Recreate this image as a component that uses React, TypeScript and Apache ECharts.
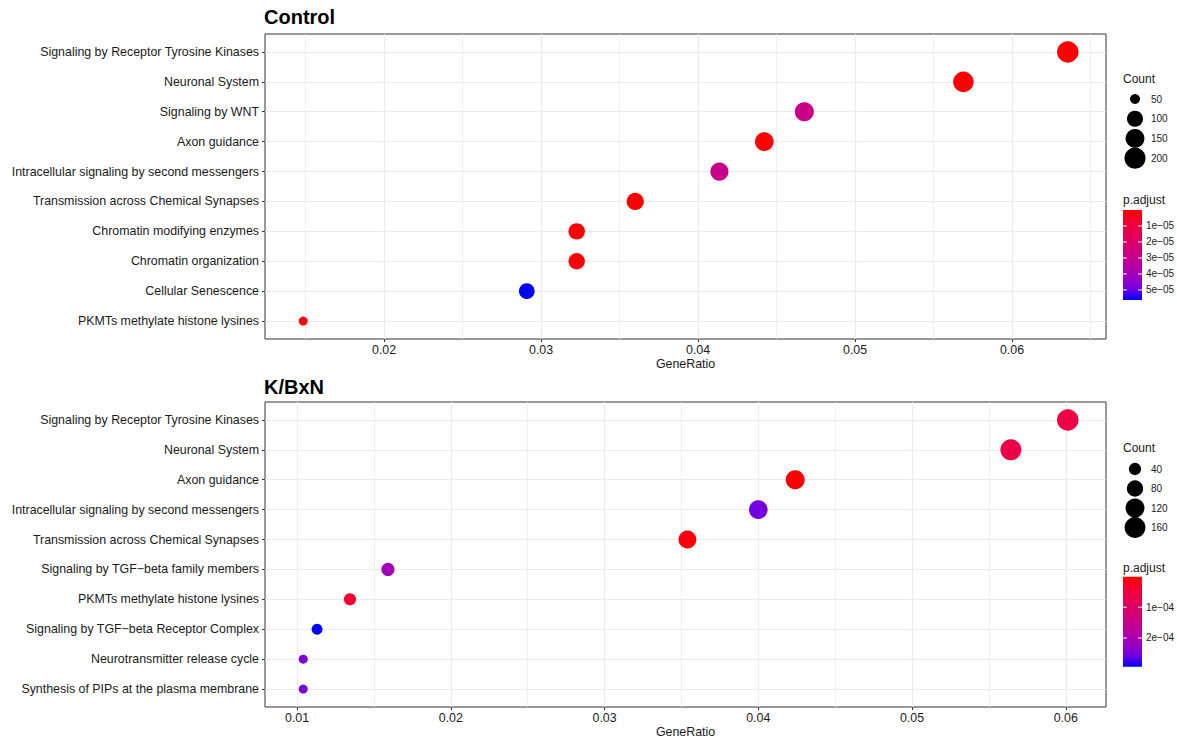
import React, { useEffect, useRef } from "react";
import * as echarts from "echarts";

// ---------- Data: Control panel ----------
const controlCategories = [
  "Signaling by Receptor Tyrosine Kinases",
  "Neuronal System",
  "Signaling by WNT",
  "Axon guidance",
  "Intracellular signaling by second messengers",
  "Transmission across Chemical Synapses",
  "Chromatin modifying enzymes",
  "Chromatin organization",
  "Cellular Senescence",
  "PKMTs methylate histone lysines",
];
const controlGeneRatio = [0.06355, 0.0569, 0.04677, 0.04422, 0.04136, 0.036, 0.03227, 0.03227, 0.02909, 0.01485];
const controlCount = [210, 188, 154, 146, 136, 119, 106, 106, 96, 49];
const controlPAdjust = [3e-9, 2e-8, 2.8e-5, 1e-7, 2.9e-5, 4e-7, 6e-7, 8e-7, 5.63e-5, 1.2e-6];
const controlXTicks = [0.02, 0.03, 0.04, 0.05, 0.06];
const controlXMinor = [0.015, 0.025, 0.035, 0.045, 0.055, 0.065];
const controlCountBreaks = [50, 100, 150, 200];
const controlPBreaks = [1e-5, 2e-5, 3e-5, 4e-5, 5e-5];
const controlPLabels = ["1e\u221205", "2e\u221205", "3e\u221205", "4e\u221205", "5e\u221205"];

// ---------- Data: K/BxN panel ----------
const kbxnCategories = [
  "Signaling by Receptor Tyrosine Kinases",
  "Neuronal System",
  "Axon guidance",
  "Intracellular signaling by second messengers",
  "Transmission across Chemical Synapses",
  "Signaling by TGF\u2212beta family members",
  "PKMTs methylate histone lysines",
  "Signaling by TGF\u2212beta Receptor Complex",
  "Neurotransmitter release cycle",
  "Synthesis of PIPs at the plasma membrane",
];
const kbxnGeneRatio = [0.06013, 0.05643, 0.0424, 0.04, 0.03539, 0.01591, 0.01344, 0.0113, 0.0104, 0.0104];
const kbxnCount = [174, 164, 123, 116, 103, 46, 39, 33, 30, 30];
const kbxnPAdjust = [5.9e-5, 6.2e-5, 5e-7, 2.55e-4, 1e-5, 2.05e-4, 3.5e-5, 2.935e-4, 2.5e-4, 2.5e-4];
const kbxnXTicks = [0.01, 0.02, 0.03, 0.04, 0.05, 0.06];
const kbxnXMinor = [0.015, 0.025, 0.035, 0.045, 0.055];
const kbxnCountBreaks = [40, 80, 120, 160];
const kbxnPBreaks = [1e-4, 2e-4];
const kbxnPLabels = ["1e\u221204", "2e\u221204"];

const panelTitles = ["Control", "K/BxN"];

// Lab-like red -> blue gradient stops (ggplot interpolation)
const gradientStops = ["#FF0000", "#F40031", "#E80050", "#DA006C", "#CA0088", "#B500A5", "#9A00C2", "#7300E0", "#0000FF"];

const FONT = "Liberation Sans, Arial, Helvetica, sans-serif";
const TEXT = "#1a1a1a";
const GRIDC = "#EBEBEB";
const AXIS_FS = 12.4;
const LEG_TITLE_FS = 12;
const LEG_LABEL_FS = 10;

function expand(arr: number[]): [number, number] {
  const lo = Math.min(...arr);
  const hi = Math.max(...arr);
  const pad = 0.05 * (hi - lo);
  return [lo - pad, hi + pad];
}

function makeSizeFn(counts: number[]) {
  const lo = Math.min(...counts);
  const hi = Math.max(...counts);
  return (c: number) => 9 + 12.5 * Math.sqrt(Math.max(0, c - lo) / (hi - lo));
}

interface Panel {
  cats: string[];
  ratio: number[];
  count: number[];
  p: number[];
  xTicks: number[];
  xMinor: number[];
  countBreaks: number[];
  pBreaks: number[];
  pLabels: string[];
}

const panels: Panel[] = [
  {
    cats: controlCategories,
    ratio: controlGeneRatio,
    count: controlCount,
    p: controlPAdjust,
    xTicks: controlXTicks,
    xMinor: controlXMinor,
    countBreaks: controlCountBreaks,
    pBreaks: controlPBreaks,
    pLabels: controlPLabels,
  },
  {
    cats: kbxnCategories,
    ratio: kbxnGeneRatio,
    count: kbxnCount,
    p: kbxnPAdjust,
    xTicks: kbxnXTicks,
    xMinor: kbxnXMinor,
    countBreaks: kbxnCountBreaks,
    pBreaks: kbxnPBreaks,
    pLabels: kbxnPLabels,
  },
];

// layout
const gridTops = [34, 402];
const gridLeft = 265;
const gridWidth = 841;
const gridHeight = 305;
const titleY = [18, 388];
const countTitleY = [79, 448];
const countKeyY0 = [99, 469];
const countKeyStep = [19.7, 19.5];
const pTitleY = [200, 568];
const barTop = [210, 576.7];
const barH = 90;

function buildOption() {
  const grid: any[] = [];
  const xAxis: any[] = [];
  const yAxis: any[] = [];
  const series: any[] = [];
  const visualMap: any[] = [];
  const graphic: any[] = [];

  panels.forEach((pn, i) => {
    const [xmin, xmax] = expand(pn.ratio);
    const sizeFn = makeSizeFn(pn.count);
    const pmin = Math.min(...pn.p);
    const pmax = Math.max(...pn.p);
    const idx = pn.cats.map((_, k) => k + 1);

    grid.push({
      left: gridLeft,
      top: gridTops[i],
      width: gridWidth,
      height: gridHeight,
      show: true,
      borderColor: "#333333",
      borderWidth: 1,
      backgroundColor: "#ffffff",
      containLabel: false,
    });

    xAxis.push({
      type: "value",
      gridIndex: i,
      min: xmin,
      max: xmax,
      position: "bottom",
      axisLine: { show: false },
      axisTick: { show: true, customValues: pn.xTicks, length: 3, lineStyle: { color: "#333333", width: 1 } },
      axisLabel: {
        customValues: pn.xTicks,
        formatter: (v: number) => v.toFixed(2),
        margin: 5,
        fontSize: AXIS_FS,
        color: TEXT,
        fontFamily: FONT,
      },
      splitLine: { show: true, lineStyle: { color: GRIDC, width: 1.2 } },
      name: "GeneRatio",
      nameLocation: "middle",
      nameGap: 19,
      nameTextStyle: { fontSize: AXIS_FS, color: TEXT, fontFamily: FONT },
    });
    xAxis.push({
      type: "value",
      gridIndex: i,
      min: xmin,
      max: xmax,
      position: "top",
      axisLine: { show: false },
      axisTick: { show: false, customValues: pn.xMinor },
      axisLabel: { show: false, customValues: pn.xMinor },
      splitLine: { show: true, lineStyle: { color: GRIDC, width: 0.8 } },
    });

    yAxis.push({
      type: "value",
      gridIndex: i,
      min: 0.4,
      max: 10.6,
      inverse: true,
      axisLine: { show: false },
      axisTick: { show: true, customValues: idx, length: 3, lineStyle: { color: "#333333", width: 1 } },
      axisLabel: {
        customValues: idx,
        formatter: (v: number) => pn.cats[Math.round(v) - 1] ?? "",
        margin: 6,
        fontSize: AXIS_FS,
        color: TEXT,
        fontFamily: FONT,
      },
      splitLine: { show: true, lineStyle: { color: GRIDC, width: 1.2 } },
    });

    series.push({
      type: "scatter",
      xAxisIndex: 2 * i,
      yAxisIndex: i,
      data: pn.cats.map((_, k) => [pn.ratio[k], k + 1, pn.count[k], pn.p[k]]),
      symbol: "circle",
      symbolSize: (v: number[]) => sizeFn(v[2]),
      itemStyle: { opacity: 1 },
      silent: true,
      z: 3,
    });

    visualMap.push({
      type: "continuous",
      show: false,
      seriesIndex: i,
      dimension: 3,
      min: pmin,
      max: pmax,
      inRange: { color: gradientStops },
    });

    // Title
    graphic.push({
      type: "text",
      left: 264,
      top: titleY[i] - 11,
      style: { text: panelTitles[i], font: `bold 20px ${FONT}`, fill: "#000" },
    });

    // Count legend
    graphic.push({
      type: "text",
      x: 1123,
      y: countTitleY[i],
      style: { text: "Count", font: `${LEG_TITLE_FS}px ${FONT}`, fill: TEXT, verticalAlign: "middle", align: "left" },
    });
    pn.countBreaks.forEach((b, k) => {
      const cy = countKeyY0[i] + k * countKeyStep[i];
      graphic.push({
        type: "circle",
        shape: { cx: 1135, cy, r: sizeFn(b) / 2 },
        style: { fill: "#000" },
      });
      graphic.push({
        type: "text",
        x: 1151,
        y: cy,
        style: { text: String(b), font: `${LEG_LABEL_FS}px ${FONT}`, fill: TEXT, verticalAlign: "middle", align: "left" },
      });
    });

    // p.adjust colorbar
    graphic.push({
      type: "text",
      x: 1123,
      y: pTitleY[i],
      style: { text: "p.adjust", font: `${LEG_TITLE_FS}px ${FONT}`, fill: TEXT, verticalAlign: "middle", align: "left" },
    });
    graphic.push({
      type: "rect",
      shape: { x: 1123, y: barTop[i], width: 19, height: barH },
      style: {
        fill: new echarts.graphic.LinearGradient(
          0,
          0,
          0,
          1,
          gradientStops.map((c, k) => ({ offset: k / (gradientStops.length - 1), color: c }))
        ),
      },
    });
    pn.pBreaks.forEach((b, k) => {
      const y = barTop[i] + ((b - pmin) / (pmax - pmin)) * barH;
      graphic.push({
        type: "line",
        shape: { x1: 1123, y1: y, x2: 1126.8, y2: y },
        style: { stroke: "#ffffff", lineWidth: 1 },
      });
      graphic.push({
        type: "line",
        shape: { x1: 1138.2, y1: y, x2: 1142, y2: y },
        style: { stroke: "#ffffff", lineWidth: 1 },
      });
      graphic.push({
        type: "text",
        x: 1146,
        y,
        style: { text: pn.pLabels[k], font: `${LEG_LABEL_FS}px ${FONT}`, fill: TEXT, verticalAlign: "middle", align: "left" },
      });
    });
  });

  return {
    animation: false,
    backgroundColor: "#ffffff",
    textStyle: { fontFamily: FONT },
    grid,
    xAxis,
    yAxis,
    series,
    visualMap,
    graphic,
  };
}

export default function App() {
  const ref = useRef<HTMLDivElement>(null);
  useEffect(() => {
    if (!ref.current) return;
    const chart = echarts.init(ref.current, undefined, { renderer: "svg" });
    chart.setOption(buildOption() as any);
    return () => chart.dispose();
  }, []);
  return (
    <div
      ref={ref}
      style={{ position: "absolute", left: 0, top: 0, width: 1177, height: 742, background: "#fff" }}
    />
  );
}
